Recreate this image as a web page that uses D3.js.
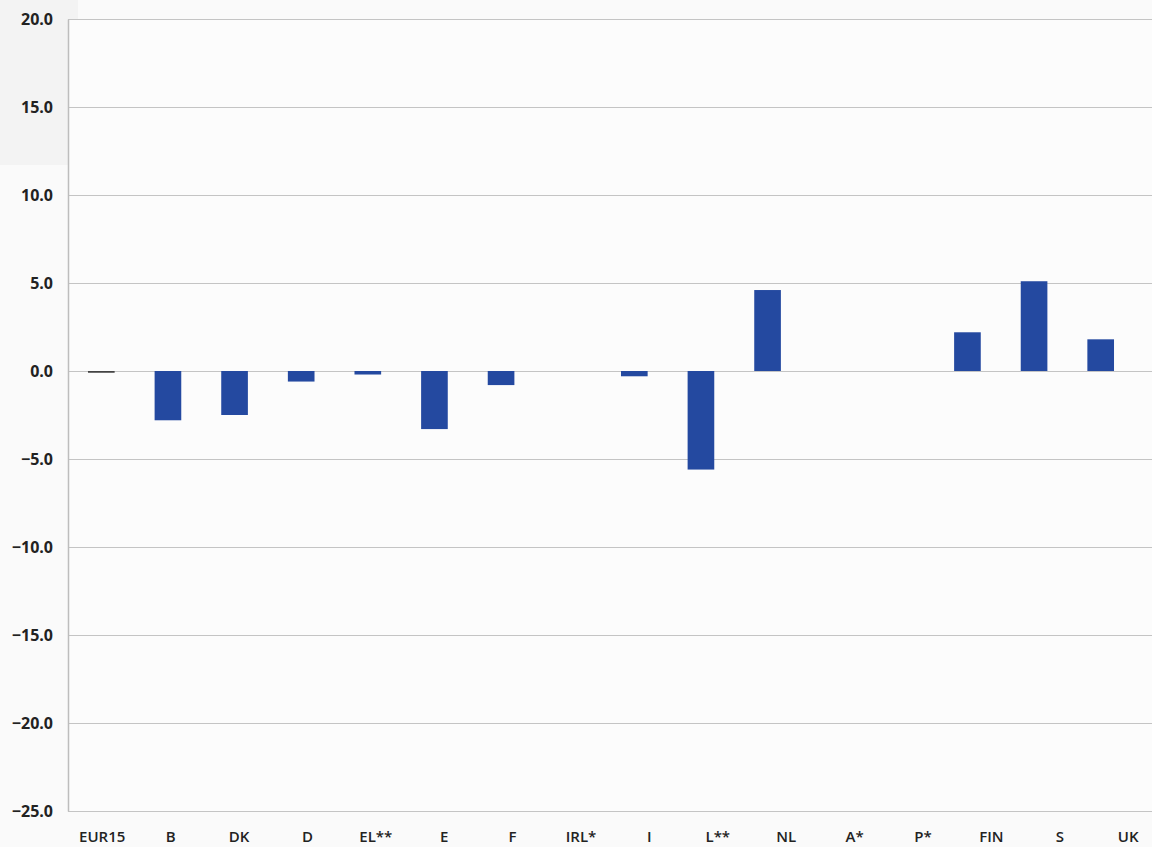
<!DOCTYPE html>
<html>
<head>
<meta charset="utf-8">
<script src="https://cdn.jsdelivr.net/npm/d3@7"></script>
<style>
  html, body { margin: 0; padding: 0; background: #fafafa; }
  svg { display: block; }
</style>
</head>
<body>
<svg id="chart" width="1152" height="847"></svg>
<script>
// Country codes along the x axis
const categories = ["EUR15", "B", "DK", "D", "EL**", "E", "F", "IRL*", "I", "L**", "NL", "A*", "P*", "FIN", "S", "UK"];
// Change per country (percentage points)
const values = [-0.1, -2.8, -2.5, -0.6, -0.2, -3.3, -0.8, 0.0, -0.3, -5.6, 4.6, 0.0, 0.0, 2.2, 5.1, 1.8];
// Value axis ticks
const yTicks = [20, 15, 10, 5, 0, -5, -10, -15, -20, -25];

const svg = d3.select("#chart");
const margin = { top: 19, right: 0, bottom: 36, left: 68 };
const width = 1152, height = 847;

// Bar positions
const x = d3.scaleBand()
  .domain(categories)
  .range([margin.left, 1134])
  .paddingInner(0.6)
  .paddingOuter(0.3);

// Category label positions (slightly wider spacing than the bars)
const xLabel = d3.scaleBand()
  .domain(categories)
  .range([margin.left, margin.left + 16 * 68.4]);

const y = d3.scaleLinear()
  .domain([-25, 20])
  .range([height - margin.bottom, margin.top]);

// Light panel behind the upper value labels
svg.append("rect")
  .attr("x", 0).attr("y", 0)
  .attr("width", margin.left + 10).attr("height", 165)
  .attr("fill", "#f3f3f3");

// Plot background
svg.append("rect")
  .attr("x", margin.left).attr("y", margin.top)
  .attr("width", width - margin.left - margin.right)
  .attr("height", y(-25) - y(20))
  .attr("fill", "#fcfcfc");

// Horizontal gridlines
svg.append("g")
  .selectAll("line")
  .data(yTicks)
  .join("line")
  .attr("x1", margin.left)
  .attr("x2", width - margin.right)
  .attr("y1", d => y(d) + 0.5)
  .attr("y2", d => y(d) + 0.5)
  .attr("stroke", "#c4c4c4")
  .attr("stroke-width", 1);

// Left axis with labels
const yAxis = svg.append("g")
  .attr("transform", `translate(${margin.left},0)`)
  .call(d3.axisLeft(y).tickValues(yTicks).tickFormat(d3.format(".1f")).tickSize(0).tickPadding(15));
yAxis.select(".domain").attr("stroke", "#bdbdbd").attr("stroke-width", 1.5);
yAxis.selectAll("text")
  .attr("font-family", "'Open Sans', 'DejaVu Sans', sans-serif")
  .attr("font-weight", "700")
  .attr("font-size", 16)
  .attr("fill", "#222");

// Bars
svg.append("g")
  .selectAll("rect")
  .data(categories.map((c, i) => ({ c, v: values[i] })).filter(d => d.v !== 0))
  .join("rect")
  .attr("x", d => x(d.c))
  .attr("width", x.bandwidth())
  .attr("y", d => Math.min(y(d.v), y(0)))
  .attr("height", d => Math.max(1.5, Math.abs(y(d.v) - y(0))))
  .attr("fill", d => Math.abs(d.v) < 0.15 ? "#444" : "#2449a0");

// Category labels
svg.append("g")
  .selectAll("text")
  .data(categories)
  .join("text")
  .attr("x", d => xLabel(d) + xLabel.bandwidth() / 2)
  .attr("y", 842)
  .attr("text-anchor", "middle")
  .attr("font-family", "'Open Sans', 'DejaVu Sans', sans-serif")
  .attr("font-weight", "600")
  .attr("font-size", 15)
  .attr("fill", "#222")
  .text(d => d);
</script>
</body>
</html>
